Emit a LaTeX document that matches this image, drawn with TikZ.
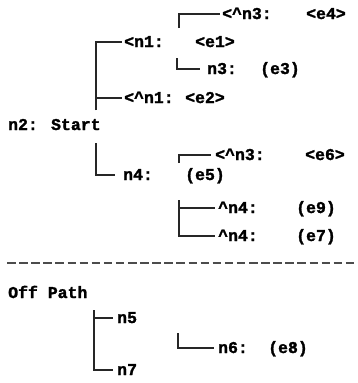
\documentclass[tikz,border=0pt]{standalone}
\usepackage{fontspec}
\newfontfamily\lab{Liberation Mono}[BoldFeatures={FakeBold=1.6}]
\usetikzlibrary{calc}
\tikzset{
  lbl/.style={anchor=west, inner sep=0pt, text height=10pt, text depth=0pt,
    font=\lab\bfseries\fontsize{16.5}{16.5}\selectfont},
  tree/.style={line width=1.3pt, draw=black!85},
  sep/.style={line width=1.8pt, draw=black!70, dash pattern=on 8.5pt off 3.6pt}
}
\begin{document}
\begin{tikzpicture}[x=1pt,y=-1pt]
  \useasboundingbox (0,0) rectangle (358,383);
  % main path
  \node[lbl] (n3a) at (222,14) {<\^{}n3:};
  \node[lbl] (e4)  at (306,14) {<e4>};
  \node[lbl] (n1)  at (124,42) {<n1:};
  \node[lbl] (e1)  at (195,42) {<e1>};
  \node[lbl] (n3)  at (207,69) {n3:};
  \node[lbl] (e3)  at (260,69) {(e3)};
  \node[lbl] (n1b) at (124,98) {<\^{}n1:};
  \node[lbl] (e2)  at (185,98) {<e2>};
  \node[lbl] (n2)  at (8,125)  {n2: Start};
  \node[lbl] (n3b) at (215,155) {<\^{}n3:};
  \node[lbl] (e6)  at (305,155) {<e6>};
  \node[lbl] (n4)  at (123,175) {n4:};
  \node[lbl] (e5)  at (185,175) {(e5)};
  \node[lbl] (n4a) at (218,208) {\^{}n4:};
  \node[lbl] (e9)  at (296,208) {(e9)};
  \node[lbl] (n4b) at (218,236) {\^{}n4:};
  \node[lbl] (e7)  at (296,236) {(e7)};
  % off path
  \node[lbl] (off) at (8,293)  {Off Path};
  \node[lbl] (n5)  at (117,318) {n5};
  \node[lbl] (n6)  at (218,348) {n6:};
  \node[lbl] (e8)  at (268,348) {(e8)};
  \node[lbl] (n7)  at (117,370) {n7};

  % branch points
  \coordinate (up2)   at (96,110);
  \coordinate (dn2)   at (96,143);
  \coordinate (up1)   at (179,28);
  \coordinate (dn1)   at (177,58);
  \coordinate (up4)   at (179,163);
  \coordinate (dn4)   at (179,200);
  \coordinate (offb)  at (94,310);
  \coordinate (n5b)   at (178,333);
  \coordinate (sepL)  at (7,263);
  \coordinate (sepR)  at (358,263);

  % connectors
  \draw[tree] (up2) |- ([xshift=-2pt]n1.west);
  \draw[tree] (up2) |- ([xshift=-2pt]n1b.west);
  \draw[tree] (dn2) |- ([xshift=-8pt]n4.west);
  \draw[tree] (up1) |- ([xshift=-2pt]n3a.west);
  \draw[tree] (dn1) |- ([xshift=-7pt]n3.west);
  \draw[tree] (up4) |- ([xshift=-4pt]n3b.west);
  \draw[tree] (dn4) |- ([xshift=-3pt]n4a.west);
  \draw[tree] (dn4) |- ([xshift=-3pt]n4b.west);
  \draw[tree] (offb) |- ([xshift=-4pt]n5.west);
  \draw[tree] (offb) |- ([xshift=-4pt]n7.west);
  \draw[tree] (n5b) |- ([xshift=-4pt]n6.west);

  \draw[sep] (sepL) -- (sepR);
\end{tikzpicture}
\end{document}
